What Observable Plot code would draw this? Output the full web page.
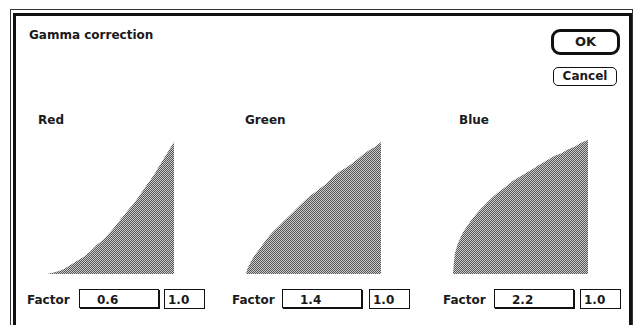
<!DOCTYPE html>
<html>
<head>
<meta charset="utf-8">
<script src="https://cdn.jsdelivr.net/npm/d3@7"></script>
<script src="https://cdn.jsdelivr.net/npm/@observablehq/plot@0.6"></script>
<style>
  html, body { margin: 0; padding: 0; background: #fff; }
  #dlg { position: relative; width: 639px; height: 325px; overflow: hidden; background: #fff;
         font-family: "DejaVu Sans", sans-serif; font-weight: bold; color: #1a1a1a; }
  .lbl { position: absolute; font-size: 12px; line-height: 12px; white-space: nowrap; }
  .frame-out { position: absolute; left: 10px; top: 9px; width: 623px; height: 400px; border: 1px solid #333; box-sizing: border-box; }
  .frame-in { position: absolute; left: 13px; top: 13px; width: 619px; height: 400px; border: 3px solid #111; box-sizing: border-box; }
  .field { position: absolute; border: 1px solid #111; box-sizing: border-box; background: #fff; }
  .shadow { box-shadow: 1px 1px 0 #111; }
  .btn { position: absolute; box-sizing: border-box; text-align: center; background: #fff; }
</style>
</head>
<body>
<svg width="0" height="0" style="position:absolute">
  <defs>
    <pattern id="dither" width="2" height="2" patternUnits="userSpaceOnUse">
      <rect width="2" height="2" fill="#cdcdcd"/>
      <rect width="1" height="1" fill="#555555" shape-rendering="crispEdges"/>
      <rect x="1" y="1" width="1" height="1" fill="#555555" shape-rendering="crispEdges"/>
    </pattern>
  </defs>
</svg>
<div id="dlg">
  <div class="frame-out"></div>
  <div class="frame-in"></div>
</div>
<script>
// ---- data ----
const inputLevels = [0, 0.01, 0.025, 0.05, 0.1, 0.15, 0.2, 0.25, 0.3, 0.35, 0.4, 0.45, 0.5, 0.55, 0.6, 0.65, 0.7, 0.75, 0.8, 0.85, 0.9, 0.95, 1];
const redOut   = [0, 0, 0.002, 0.007, 0.02, 0.04, 0.07, 0.10, 0.13, 0.17, 0.22, 0.26, 0.31, 0.37, 0.43, 0.49, 0.55, 0.62, 0.69, 0.76, 0.84, 0.92, 1];
const greenOut = [0, 0.037, 0.07, 0.12, 0.19, 0.26, 0.32, 0.37, 0.42, 0.47, 0.52, 0.57, 0.61, 0.65, 0.69, 0.74, 0.78, 0.81, 0.85, 0.89, 0.93, 0.96, 1];
const blueOut  = [0, 0.12, 0.19, 0.26, 0.35, 0.42, 0.48, 0.53, 0.58, 0.62, 0.66, 0.70, 0.73, 0.76, 0.79, 0.82, 0.85, 0.88, 0.90, 0.93, 0.95, 0.98, 1];

const title = "Gamma correction";
const channels = ["Red", "Green", "Blue"];
const factorLabel = "Factor";
const factors = ["0.6", "1.4", "2.2"];
const secondValues = ["1.0", "1.0", "1.0"];
const buttons = ["OK", "Cancel"];

// ---- layout ----
const dlg = document.getElementById("dlg");
function label(text, left, top, size = 12) {
  const d = document.createElement("div");
  d.className = "lbl";
  d.textContent = text;
  d.style.cssText += `left:${left}px;top:${top}px;font-size:${size}px;line-height:${size}px;`;
  dlg.appendChild(d);
  return d;
}

label(title, 29, 29, 12);

// buttons
const ok = document.createElement("div");
ok.className = "btn";
ok.style.cssText += "left:551px;top:29px;width:69px;height:26px;border:3px solid #111;border-radius:9px;font-size:13px;line-height:20px;";
ok.textContent = buttons[0];
dlg.appendChild(ok);
const cancel = document.createElement("div");
cancel.className = "btn";
cancel.style.cssText += "left:553px;top:67px;width:64px;height:19px;border:1px solid #111;border-radius:5px;font-size:12px;line-height:17px;";
cancel.textContent = buttons[1];
dlg.appendChild(cancel);

const panels = [
  { out: redOut,   labelX: 38,  areaX: 45,  areaW: 129, areaTop: 142, factorX: 27,  boxX: 79,  box2X: 164 },
  { out: greenOut, labelX: 245, areaX: 246, areaW: 135, areaTop: 142, factorX: 232, boxX: 282, box2X: 369 },
  { out: blueOut,  labelX: 459, areaX: 453, areaW: 135, areaTop: 140, factorX: 443, boxX: 494, box2X: 580 }
];
const areaBottom = 274;
const rowTop = 289;

panels.forEach((p, i) => {
  label(channels[i], p.labelX, 114, 12);
  const data = inputLevels.map((x, j) => ({ x, y: p.out[j] }));
  const h = areaBottom - p.areaTop;
  const chart = Plot.plot({
    width: p.areaW,
    height: h,
    marginTop: 0, marginRight: 0, marginBottom: 0, marginLeft: 0,
    x: { domain: [0, 1], axis: null },
    y: { domain: [0, 1], axis: null },
    style: { background: "transparent", overflow: "visible" },
    marks: [
      Plot.areaY(data, { x: "x", y: "y", fill: "url(#dither)", curve: "monotone-x" })
    ]
  });
  chart.style.position = "absolute";
  chart.style.left = p.areaX + "px";
  chart.style.top = p.areaTop + "px";
  dlg.appendChild(chart);

  // factor row
  label(factorLabel, p.factorX, rowTop + 5, 12);
  const box = document.createElement("div");
  box.className = "field shadow";
  box.style.cssText += `left:${p.boxX}px;top:${rowTop}px;width:80px;height:19px;`;
  dlg.appendChild(box);
  label(factors[i], p.boxX + 18, rowTop + 5, 12);
  const box2 = document.createElement("div");
  box2.className = "field";
  box2.style.cssText += `left:${p.box2X}px;top:${rowTop}px;width:41px;height:20px;`;
  dlg.appendChild(box2);
  label(secondValues[i], p.box2X + 4, rowTop + 5, 12);
});
</script>
</body>
</html>
